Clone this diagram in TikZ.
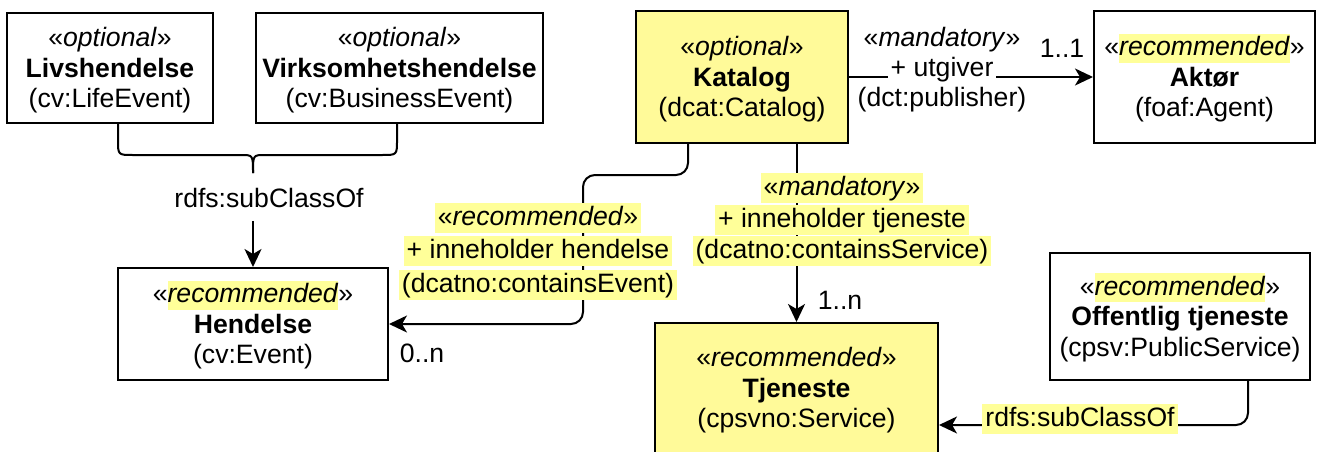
\documentclass[tikz,border=0pt]{standalone}
\usepackage{fontspec}
\setmainfont{Liberation Sans}
\usetikzlibrary{arrows.meta}
\definecolor{boxy}{HTML}{FFFA99}
\definecolor{hl}{HTML}{FFFF99}
\newcommand\hlw[1]{{\setlength\fboxsep{0pt}\colorbox{hl}{\rule[-7pt]{0pt}{29pt}#1}}}
\newcommand\hlln[1]{{\setlength\fboxsep{0pt}\colorbox{hl}{\hspace{3pt}\rule[-7.5pt]{0pt}{30pt}#1\hspace{3pt}}}}
\newcommand\wln[1]{{\setlength\fboxsep{0pt}\colorbox{white}{\hspace{3pt}\rule[-7pt]{0pt}{28pt}#1\hspace{3pt}}}}
\newcommand\stereo[1]{«\textit{#1}»}
\newcommand\fl{\rule{0pt}{24.5pt}}
\begin{document}
\begin{tikzpicture}[x=1pt,y=-1pt,
  font=\fontsize{26.6}{30.5}\selectfont,
  cls/.style={draw, line width=2pt, align=center, inner sep=0pt},
  ycls/.style={cls, fill=boxy},
  conn/.style={line width=2pt, -{Stealth[length=18pt,width=17pt,inset=5pt]}},
  plain/.style={line width=2pt},
  elab/.style={align=center, inner sep=0pt, font=\fontsize{26.6}{33.5}\selectfont},
  mult/.style={inner sep=0pt}]
\useasboundingbox (0,0) rectangle (1317,452);

% classes
\node[cls, minimum width=206pt, minimum height=110pt] (liv) at (110,68)
  {\fl\stereo{optional}\\ \textbf{Livshendelse}\\ (cv:LifeEvent)};
\node[cls, minimum width=287pt, minimum height=110pt] (virk) at (399.5,68)
  {\fl\stereo{optional}\\ \textbf{Virksomhetshendelse}\\ (cv:BusinessEvent)};
\node[ycls, minimum width=212pt, minimum height=132pt] (kat) at (742,77)
  {\fl\stereo{optional}\\ \textbf{Katalog}\\ (dcat:Catalog)};
\node[cls, minimum width=221pt, minimum height=132pt] (akt) at (1204.5,77)
  {\fl«\hlw{\textit{recommended}}»\\ \textbf{Aktør}\\ (foaf:Agent)};
\node[cls, minimum width=270pt, minimum height=112pt] (hen) at (253,324)
  {\fl«\hlw{\textit{recommended}}»\\ \textbf{Hendelse}\\ (cv:Event)};
\node[ycls, minimum width=283pt, minimum height=130pt] (tje) at (796.5,388)
  {\fl\stereo{recommended}\\ \textbf{Tjeneste}\\ (cpsvno:Service)};
\node[cls, minimum width=260pt, minimum height=127pt] (off) at (1180,316.5)
  {\fl«\hlw{\textit{recommended}}»\\ \textbf{Offentlig tjeneste}\\ (cpsv:PublicService)};

% subclass brace
\coordinate (tip) at (253,173);
\draw[plain] ([xshift=8pt]liv.south) -- (118,140) .. controls (118,155) .. (133,155)
  -- (241,155) .. controls (253,155) .. (tip);
\draw[plain] ([xshift=-2.5pt]virk.south) -- (397,140) .. controls (397,155) .. (382,155)
  -- (265,155) .. controls (253,155) .. (tip);
\node[inner sep=0pt] (sub1) at (269,198) {rdfs:subClassOf};
\draw[conn] ([yshift=-13pt]hen.north |- sub1.south) -- (hen.north);

% Katalog -> Aktor
\draw[conn] (kat.east) -- (akt.west);
\node[elab, font=\fontsize{26.6}{30}\selectfont] (utg) at (942,70)
  {\stereo{mandatory}\\ \wln{+ utgiver}\\ (dct:publisher)};
\node[mult] (m11) at (1062,48) {1..1};

% Katalog -> Hendelse
\draw[conn, rounded corners=12pt] ([xshift=-54pt]kat.south) |- (583,175) |- (hen.east);
\node[elab] (inh) at (538,251)
  {\hlln{\stereo{recommended}}\\ \hlln{+ inneholder hendelse}\\ \hlln{(dcatno:containsEvent)}};
\node[mult] (m0n) at (422,353) {0..n};

% Katalog -> Tjeneste
\draw[conn] (tje.north |- kat.south) -- (tje.north);
\node[elab, font=\fontsize{26.6}{31.5}\selectfont] (int) at (842,219.5)
  {\hlln{\stereo{mandatory}}\\ \hlln{+ inneholder tjeneste}\\ \hlln{(dcatno:containsService)}};
\node[mult] (m1n) at (840,300) {1..n};

% Offentlig tjeneste -> Tjeneste
\draw[conn, rounded corners=12pt] ([xshift=68pt]off.south) |- ([yshift=-37pt]tje.east);
\node[inner sep=0pt] (sub2) at (1080,419) {\hlln{rdfs:subClassOf}};
\end{tikzpicture}
\end{document}
